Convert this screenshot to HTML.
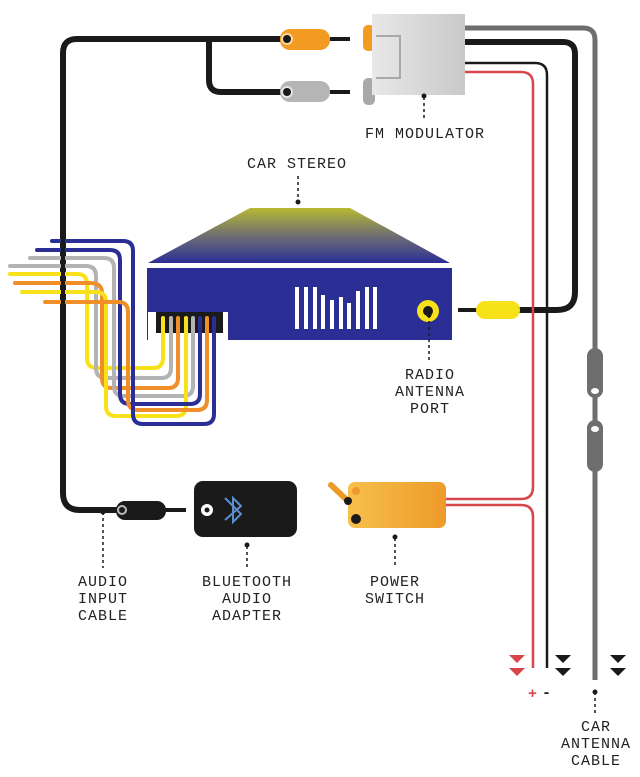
<!DOCTYPE html>
<html><head><meta charset="utf-8"><style>
html,body{margin:0;padding:0;background:#fff;}
svg{display:block;}
text{font-family:"Liberation Mono",monospace;font-size:15px;fill:#222;text-anchor:middle;letter-spacing:1px;}
</style></head><body>
<svg width="640" height="777" viewBox="0 0 640 777" xmlns="http://www.w3.org/2000/svg">
<defs>
<linearGradient id="mod" x1="0" x2="1"><stop offset="0" stop-color="#e8e8e8"/><stop offset="1" stop-color="#c9c9c9"/></linearGradient>
<linearGradient id="top" x1="0" y1="0" x2="0" y2="1"><stop offset="0" stop-color="#b8b832"/><stop offset="0.5" stop-color="#6f6f72"/><stop offset="1" stop-color="#2b2f95"/></linearGradient>
<linearGradient id="sw" x1="0" x2="1"><stop offset="0" stop-color="#f6c04a"/><stop offset="1" stop-color="#ee9a2a"/></linearGradient>
</defs>

<path d="M465,28 H583 Q595,28 595,40 V680" fill="none" stroke="#6e6e6e" stroke-width="5"/>
<path d="M465,42 H563 Q575,42 575,54 V292 Q575,310 557,310 H510" fill="none" stroke="#1a1a1a" stroke-width="6"/>
<path d="M465,63 H535 Q547,63 547,75 V668" fill="none" stroke="#1a1a1a" stroke-width="2.5"/>
<path d="M465,72 H521 Q533,72 533,84 V487 Q533,499 521,499 H444" fill="none" stroke="#d8454a" stroke-width="2.5"/>
<path d="M444,505 H521 Q533,505 533,517 V668" fill="none" stroke="#d8454a" stroke-width="2.5"/>

<rect x="587" y="348" width="16" height="50" rx="8" fill="#6e6e6e"/>
<ellipse cx="595" cy="391" rx="4" ry="3" fill="#fff"/>
<rect x="593" y="405" width="4" height="18" fill="#6e6e6e"/>
<rect x="587" y="420" width="16" height="52" rx="8" fill="#6e6e6e"/>
<ellipse cx="595" cy="429" rx="4" ry="3" fill="#fff"/>

<path d="M458,310 H480" stroke="#1a1a1a" stroke-width="4"/>
<rect x="476" y="301" width="44" height="18" rx="9" fill="#f7e21a"/>

<path d="M282,39 H77 Q63,39 63,53 V493 Q63,510 80,510 H120" fill="none" stroke="#1a1a1a" stroke-width="6"/>
<path d="M209,39 V80 Q209,92 221,92 H282" fill="none" stroke="#1a1a1a" stroke-width="6"/>
<rect x="280" y="29" width="50" height="21" rx="10" fill="#f39a22"/>
<circle cx="287" cy="39" r="5" fill="#1a1a1a" stroke="#fbd9a4" stroke-width="2"/>
<path d="M330,39 H350" stroke="#1a1a1a" stroke-width="4"/>
<rect x="280" y="81" width="50" height="21" rx="10" fill="#b5b5b5"/>
<circle cx="287" cy="92" r="5" fill="#1a1a1a" stroke="#e5e5e5" stroke-width="2"/>
<path d="M330,92 H350" stroke="#1a1a1a" stroke-width="4"/>

<rect x="116" y="501" width="50" height="19" rx="9" fill="#1a1a1a"/>
<circle cx="122" cy="510" r="4" fill="#1a1a1a" stroke="#bbb" stroke-width="2"/>
<path d="M160,510 H186" stroke="#1a1a1a" stroke-width="4"/>

<rect x="363" y="25" width="12" height="26" rx="5" fill="#f39a22"/>
<rect x="363" y="78" width="12" height="27" rx="5" fill="#a9a9a9"/>
<rect x="372" y="14" width="93" height="81" fill="url(#mod)"/>
<path d="M376,36 H400 V78 H376" fill="none" stroke="#a9a9a9" stroke-width="2"/>

<polygon points="250,208 350,208 450,263 148,263" fill="url(#top)"/>
<rect x="147" y="268" width="305" height="72" fill="#2b2f95"/>
<rect x="148" y="312" width="80" height="28" fill="#fff"/>
<rect x="156" y="312" width="67" height="21" fill="#1a1a1a"/>
<g fill="#fff">
<rect x="295" y="287" width="4" height="42"/><rect x="304" y="287" width="4" height="42"/><rect x="313" y="287" width="4" height="42"/>
<rect x="321" y="295" width="4" height="34"/><rect x="330" y="300" width="4" height="29"/><rect x="339" y="297" width="4" height="32"/>
<rect x="347" y="303" width="4" height="26"/><rect x="356" y="291" width="4" height="38"/><rect x="365" y="287" width="4" height="42"/><rect x="373" y="287" width="4" height="42"/>
</g>
<circle cx="428" cy="311" r="11" fill="#f7e21a"/>
<circle cx="428" cy="311" r="5" fill="#1a1a1a"/>

<g fill="none" stroke-width="4" stroke-linecap="round">
<path d="M10,274 H77 Q87,274 87,284 V358 Q87,368 97,368 H153 Q163,368 163,358 V318" stroke="#f7e21a"/>
<path d="M10,266 H86 Q96,266 96,276 V368 Q96,378 106,378 H161 Q171,378 171,368 V318" stroke="#b3b3b3"/>
<path d="M15,283 H90 Q102,283 102,293 V378 Q102,388 112,388 H168 Q178,388 178,378 V318" stroke="#f08f2a"/>
<path d="M30,258 H104 Q114,258 114,268 V386 Q114,396 124,396 H183 Q193,396 193,386 V318" stroke="#b3b3b3"/>
<path d="M22,292 H96 Q106,292 106,302 V406 Q106,416 116,416 H176 Q186,416 186,406 V318" stroke="#f7e21a"/>
<path d="M37,250 H110 Q120,250 120,260 V394 Q120,404 130,404 H190 Q200,404 200,394 V318" stroke="#2b2f95"/>
<path d="M45,302 H118 Q128,302 128,312 V400 Q128,410 138,410 H197 Q207,410 207,400 V318" stroke="#f08f2a"/>
<path d="M52,241 H123 Q133,241 133,251 V414 Q133,424 143,424 H204 Q214,424 214,414 V318" stroke="#2b2f95"/>
</g>
<rect x="61" y="230" width="4" height="200" fill="#1a1a1a"/>

<rect x="194" y="481" width="103" height="56" rx="9" fill="#1a1a1a"/>
<circle cx="207" cy="510" r="6" fill="#fff"/><circle cx="207" cy="510" r="2.5" fill="#1a1a1a"/>
<path d="M225,498 L241,514 L233,522 V498 L241,506 L225,520" fill="none" stroke="#5b8fd0" stroke-width="2"/>

<path d="M331,485 L349,502" stroke="#ee9a2a" stroke-width="6" stroke-linecap="round"/>
<rect x="348" y="482" width="98" height="46" rx="7" fill="url(#sw)"/>
<circle cx="356" cy="491" r="4" fill="#ee9a2a"/>
<circle cx="348" cy="501" r="4" fill="#1a1a1a"/>
<circle cx="356" cy="519" r="5" fill="#1a1a1a"/>

<g fill="#d8454a"><polygon points="509,655 525,655 517,663"/><polygon points="509,668 525,668 517,676"/></g>
<g fill="#1a1a1a"><polygon points="555,655 571,655 563,663"/><polygon points="555,668 571,668 563,676"/>
<polygon points="610,655 626,655 618,663"/><polygon points="610,668 626,668 618,676"/></g>
<text x="533" y="698" style="fill:#d8454a;font-weight:bold">+</text>
<text x="547" y="697" style="font-weight:bold">-</text>

<g stroke="#1a1a1a" stroke-width="1.5" stroke-dasharray="3,3" fill="none">
<path d="M424,97 V120"/><path d="M298,176 V202"/><path d="M429,315 V362"/>
<path d="M103,512 V568"/><path d="M247,546 V568"/><path d="M395,538 V568"/><path d="M595,692 V716"/>
</g>
<g fill="#1a1a1a">
<circle cx="424" cy="96" r="2.5"/><circle cx="298" cy="202" r="2.5"/><circle cx="429" cy="315" r="2.5"/>
<circle cx="103" cy="512" r="2.5"/><circle cx="247" cy="545" r="2.5"/><circle cx="395" cy="537" r="2.5"/><circle cx="595" cy="692" r="2.5"/>
</g>

<text x="425" y="138">FM MODULATOR</text>
<text x="297" y="168">CAR STEREO</text>
<text x="430" y="379">RADIO</text><text x="430" y="396">ANTENNA</text><text x="430" y="413">PORT</text>
<text x="103" y="586">AUDIO</text><text x="103" y="603">INPUT</text><text x="103" y="620">CABLE</text>
<text x="247" y="586">BLUETOOTH</text><text x="247" y="603">AUDIO</text><text x="247" y="620">ADAPTER</text>
<text x="395" y="586">POWER</text><text x="395" y="603">SWITCH</text>
<text x="596" y="731">CAR</text><text x="596" y="748">ANTENNA</text><text x="596" y="765">CABLE</text>
</svg>
</body></html>
